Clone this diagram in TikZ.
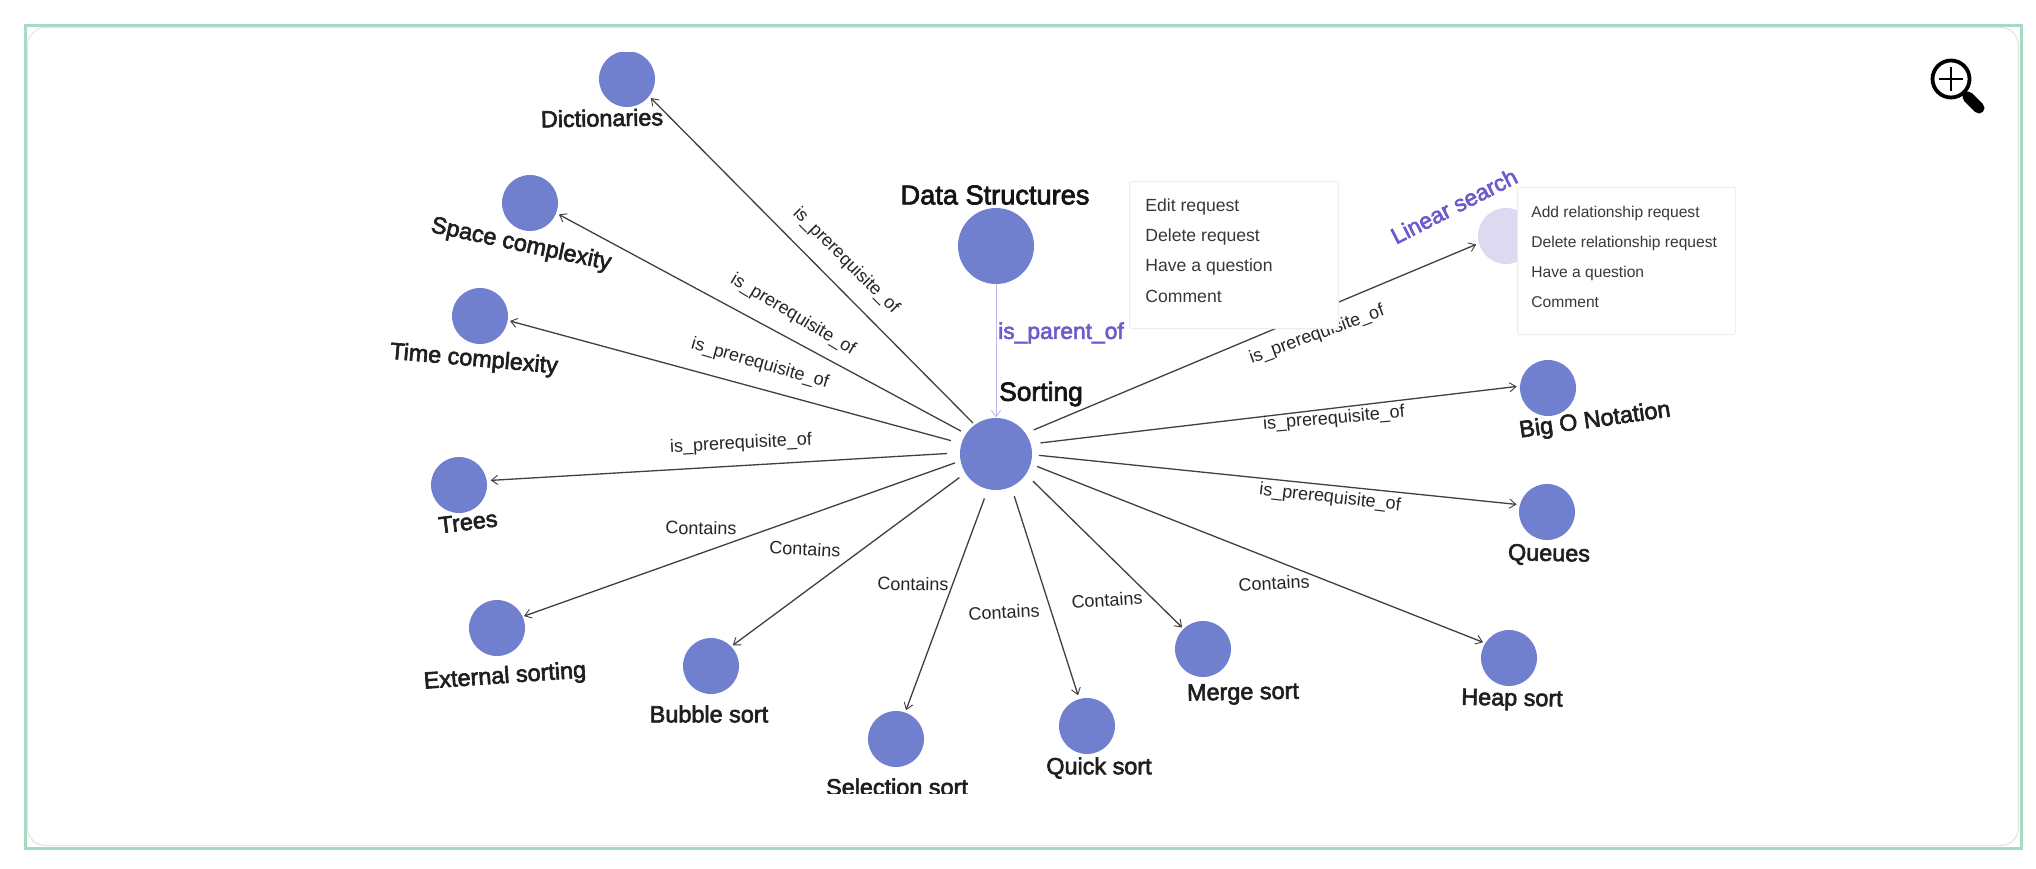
\documentclass[tikz,border=0pt]{standalone}
\usepackage{fontspec}
\setmainfont{Liberation Sans}
\newfontfamily\medfont[FakeBold=2.6]{Liberation Sans}
\usetikzlibrary{arrows.meta}
\definecolor{nodeblue}{HTML}{707FCE}
\definecolor{palenode}{HTML}{DDD9F0}
\definecolor{accent}{HTML}{6A5CCB}
\definecolor{framegreen}{HTML}{A6DBC2}
\definecolor{edgegrey}{HTML}{404040}
\tikzset{
  x=0.5pt,y=-0.5pt,
  concept/.style={circle,fill=nodeblue,draw=none,inner sep=0,outer sep=0,minimum size=28pt},
  bigconcept/.style={concept,minimum size=38pt},
  hubconcept/.style={concept,minimum size=36pt},
  nodelabel/.style={font=\medfont\fontsize{11.7}{14}\selectfont,text=black!88,inner sep=0},
  biglabel/.style={font=\medfont\fontsize{13.6}{16}\selectfont,text=black!92,inner sep=0},
  rellabel/.style={font=\fontsize{9}{11}\selectfont,text=black!85,inner sep=0},
  activelabel/.style={font=\medfont\fontsize{11.4}{14}\selectfont,text=accent,inner sep=0},
  rel/.style={draw=edgegrey,line width=0.65pt,-{Straight Barb[length=3.2pt,width=4.6pt,line width=0.45pt]}},
  parentrel/.style={draw=accent!45,line width=0.5pt,-{Straight Barb[length=3.2pt,width=4.6pt,line width=0.4pt]}},
  menubox/.style={draw=black!7,fill=white,line width=0.5pt,rounded corners=1pt},
  menuitem/.style={font=\fontsize{8.8}{10}\selectfont,text=black!78,inner sep=0,anchor=west,text height=6.5pt,text depth=2pt},
  menuitemsmall/.style={font=\fontsize{7.8}{10}\selectfont,text=black!78,inner sep=0,anchor=west,text height=6pt,text depth=1.6pt}
}
\begin{document}
\begin{tikzpicture}
\useasboundingbox (0,0) rectangle (2036,868);
\fill[white] (0,0) rectangle (2036,868);
\draw[framegreen,line width=1.5pt] (25,25) rectangle (2021,848);
\draw[black!10,line width=0.6pt,rounded corners=9pt] (27.5,27.5) rectangle (2018.5,845.5);
\begin{scope}
\clip (0,52) rectangle (2036,793);
\node[hubconcept] (hub) at (996,454) {};
\node[bigconcept] (ds) at (996,246) {};
\node[concept] (dict) at (627,79) {};
\node[concept] (space) at (530,203) {};
\node[concept] (time) at (480,316) {};
\node[concept] (trees) at (459,485) {};
\node[concept] (ext) at (497,628) {};
\node[concept] (bubble) at (711,666) {};
\node[concept] (sel) at (896,739) {};
\node[concept] (quick) at (1087,726) {};
\node[concept] (merge) at (1203,649) {};
\node[concept] (heap) at (1509,658) {};
\node[concept] (queues) at (1547,512) {};
\node[concept] (bigo) at (1548,388) {};
\node[concept,fill=palenode] (linear) at (1506,236) {};

\draw[parentrel,shorten >=0.3pt] (ds.south) -- (hub.north);
\draw[rel,shorten <=1.3pt,shorten >=1.3pt] (hub.126.6) -- (dict.-38);
\draw[rel,shorten <=3pt,shorten >=1.5pt] (hub.146.7) -- (space.-21);
\draw[rel,shorten <=5.5pt,shorten >=1.2pt] (hub.163.9) -- (time.-9.5);
\draw[rel,shorten <=6.5pt,shorten >=2pt] (hub.178.8) -- (trees.9);
\draw[rel,shorten <=3pt,shorten >=0.8pt] (hub.191) -- (ext.24);
\draw[rel,shorten <=3.8pt,shorten >=1pt] (hub.212) -- (bubble.44);
\draw[rel,shorten <=5pt,shorten >=1.3pt] (hub.257.5) -- (sel.71);
\draw[rel,shorten <=5pt,shorten >=2pt] (hub.-65.7) -- (quick.106);
\draw[rel,shorten <=5pt,shorten >=1pt] (hub.-34.4) -- (merge.134);
\draw[rel,shorten <=3.5pt,shorten >=1.2pt] (hub.-16.3) -- (heap.148);
\draw[rel,shorten <=3.5pt,shorten >=1.7pt] (hub.-1.3) -- (queues.165);
\draw[rel,shorten <=5pt,shorten >=1.7pt] (hub.16.5) -- (bigo.176);
\draw[rel,shorten <=4.5pt,shorten >=1.5pt] (hub.35) -- (linear.195);

\node[rellabel,rotate=-45] (l1) at (846,261) {is\_prerequisite\_of};
\node[rellabel,rotate=-31] (l2) at (793,315) {is\_prerequisite\_of};
\node[rellabel,rotate=-16] (l3) at (760,364) {is\_prerequisite\_of};
\node[rellabel,rotate=3] (l4) at (741,444) {is\_prerequisite\_of};
\node[rellabel,rotate=-1] (l5) at (701,528) {Contains};
\node[rellabel,rotate=-3] (l6) at (805,549) {Contains};
\node[rellabel,rotate=-1] (l7) at (913,584) {Contains};
\node[rellabel,rotate=3] (l8) at (1004,612) {Contains};
\node[rellabel,rotate=4] (l9) at (1107,600) {Contains};
\node[rellabel,rotate=3] (l10) at (1274,583) {Contains};
\node[rellabel,rotate=-6.5] (l11) at (1330,498) {is\_prerequisite\_of};
\node[rellabel,rotate=5] (l12) at (1334,419) {is\_prerequisite\_of};
\node[rellabel,rotate=20] (l13) at (1317,335) {is\_prerequisite\_of};

\node[biglabel] (tds) at (995,195) {Data Structures};
\node[biglabel,font=\medfont\fontsize{13.2}{16}\selectfont] (tsort) at (1041,394) {Sorting};
\node[activelabel] (tparent) at (1061,333) {is\_parent\_of};
\node[activelabel,rotate=27] (tlinear) at (1454,206) {Linear search};
\node[nodelabel,rotate=1] (tdict) at (602,118) {Dictionaries};
\node[nodelabel,rotate=-12] (tspace) at (521,245) {Space complexity};
\node[nodelabel,rotate=-5] (ttime) at (474,360) {Time complexity};
\node[nodelabel,rotate=7] (ttrees) at (468,522) {Trees};
\node[nodelabel,rotate=4] (text) at (505,677) {External sorting};
\node[nodelabel] (tbubble) at (709,714) {Bubble sort};
\node[nodelabel] (tsel) at (897,787) {Selection sort};
\node[nodelabel] (tquick) at (1099,768) {Quick sort};
\node[nodelabel,rotate=1] (tmerge) at (1243,694) {Merge sort};
\node[nodelabel,rotate=-1] (theap) at (1512,700) {Heap sort};
\node[nodelabel,rotate=-1] (tqueues) at (1549,555) {Queues};
\node[nodelabel,rotate=8] (tbigo) at (1595,421) {Big O Notation};

\node[menubox,minimum width=104.5pt,minimum height=73.5pt,anchor=north west,inner sep=0] (menua) at (1129,181) {};
\node[menuitem] (ma1) at (1145,207) {Edit request};
\node[menuitem] (ma2) at (1145,237) {Delete request};
\node[menuitem] (ma3) at (1145,267) {Have a question};
\node[menuitem] (ma4) at (1145,298) {Comment};
\node[menubox,minimum width=109pt,minimum height=73.5pt,anchor=north west,inner sep=0] (menub) at (1517,187) {};
\node[menuitemsmall] (mb1) at (1531,213) {Add relationship request};
\node[menuitemsmall] (mb2) at (1531,243) {Delete relationship request};
\node[menuitemsmall] (mb3) at (1531,273) {Have a question};
\node[menuitemsmall] (mb4) at (1531,303) {Comment};
\end{scope}

\node[circle,draw=black,line width=1.9pt,fill=white,minimum size=18.5pt,inner sep=0] (zoomlens) at (1951,79) {};
\draw[black,line width=1.4pt] (1939,79) -- (1963,79);
\draw[black,line width=1.4pt] (1951,67) -- (1951,91);
\draw[black,line width=1.4pt] (zoomlens.-45) -- (1966,95);
\draw[black,line width=5.5pt,line cap=round] (1968,97) -- (1979,108);
\end{tikzpicture}
\end{document}
